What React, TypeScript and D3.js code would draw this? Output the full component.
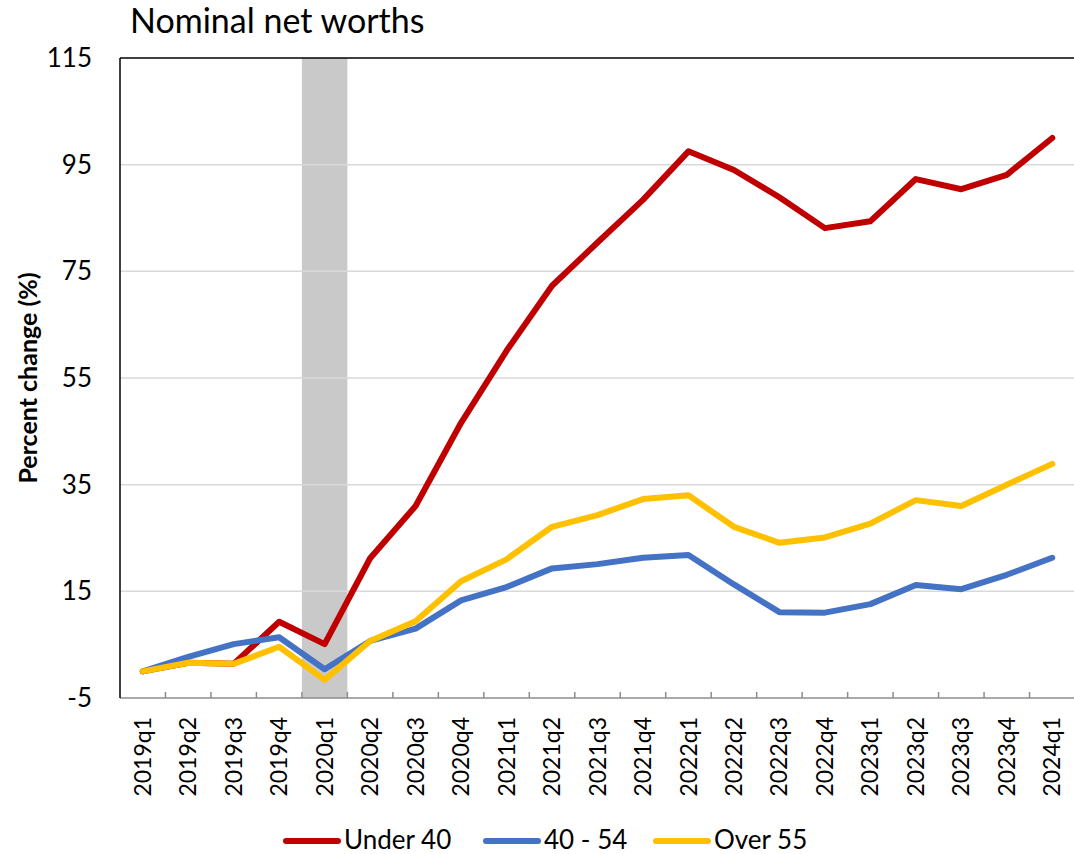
import * as d3 from "d3";

const QUARTERS = [
  "2019q1", "2019q2", "2019q3", "2019q4",
  "2020q1", "2020q2", "2020q3", "2020q4",
  "2021q1", "2021q2", "2021q3", "2021q4",
  "2022q1", "2022q2", "2022q3", "2022q4",
  "2023q1", "2023q2", "2023q3", "2023q4",
  "2024q1",
];

const UNDER_40 = [0, 1.6, 1.4, 9.3, 5.1, 21.2, 31, 46.6, 60.1, 72.3, 80.4, 88.4, 97.5, 94, 88.9, 83.1, 84.4, 92.3, 90.4, 93.1, 100];
const AGE_40_54 = [0, 2.7, 5.1, 6.4, 0.4, 5.7, 8, 13.3, 15.8, 19.3, 20.1, 21.3, 21.8, 16.3, 11.1, 11, 12.6, 16.2, 15.4, 18.1, 21.3];
const OVER_55 = [0, 1.6, 1.4, 4.6, -1.6, 5.7, 9.4, 16.9, 21, 27.1, 29.3, 32.3, 33, 27.1, 24.1, 25.1, 27.7, 32.1, 31, 35, 38.9];

const Y_TICKS = [-5, 15, 35, 55, 75, 95, 115];
const RECESSION = ["2020q1"];

const SERIES = [
  { name: "Under 40", values: UNDER_40, color: "#C00000" },
  { name: "40 - 54", values: AGE_40_54, color: "#4472C4" },
  { name: "Over 55", values: OVER_55, color: "#FFC000" },
];

const FONT = "Lato, 'Open Sans', sans-serif";

export default function App() {
  const width = 1074;
  const height = 854;
  const plot = { left: 120, right: 1075, top: 58, bottom: 698 };

  const x = d3.scaleBand<string>().domain(QUARTERS).range([plot.left, plot.right]);
  const y = d3.scaleLinear().domain([-5, 115]).range([plot.bottom, plot.top]);
  const cx = (q: string) => (x(q) ?? 0) + x.bandwidth() / 2;

  const line = d3
    .line<number>()
    .x((_, i) => cx(QUARTERS[i]))
    .y((d) => y(d));

  // legend entry start positions
  const legendX = [283, 483, 653];

  return (
    <svg
      width={width}
      height={height}
      style={{ position: "absolute", left: 0, top: 0, background: "#fff" }}
      fontFamily={FONT}
    >
      <text x={130} y={33} fontSize={34} fill="#000">Nominal net worths</text>

      {/* recession shading */}
      {RECESSION.map((q) => (
        <rect key={q} x={x(q)} y={plot.top} width={x.bandwidth()} height={plot.bottom - plot.top} fill="#c9c9c9" />
      ))}

      {/* gridlines */}
      {Y_TICKS.filter((t) => t > -5 && t < 115).map((t) => (
        <line key={t} x1={plot.left} x2={plot.right} y1={y(t)} y2={y(t)} stroke="#d9d9d9" strokeWidth={1.5} />
      ))}
      <line x1={plot.left} x2={plot.right} y1={y(115)} y2={y(115)} stroke="#000" strokeWidth={1.5} />

      {/* y ticks */}
      {Y_TICKS.map((t) => (
        <text key={t} x={92} y={y(t)} dy="0.35em" textAnchor="end" fontSize={26} fill="#000">{t}</text>
      ))}
      <text
        transform={`translate(37, ${(plot.top + plot.bottom) / 2}) rotate(-90)`}
        textAnchor="middle"
        fontSize={25}
        fontWeight="bold"
        fill="#000"
      >
        Percent change (%)
      </text>

      {/* x axis */}
      <line x1={plot.left} x2={plot.right} y1={plot.bottom} y2={plot.bottom} stroke="#8c8c8c" strokeWidth={1.5} />
      {QUARTERS.slice(1).map((q) => (
        <line key={q} x1={x(q)} x2={x(q)} y1={plot.bottom - 6} y2={plot.bottom} stroke="#8c8c8c" strokeWidth={1.5} />
      ))}
      {QUARTERS.map((q) => (
        <text
          key={q}
          transform={`translate(${cx(q)}, 717) rotate(-90)`}
          textAnchor="end"
          dy="0.35em"
          fontSize={23}
          fill="#000"
        >
          {q}
        </text>
      ))}
      <line x1={plot.left} x2={plot.left} y1={plot.top} y2={plot.bottom} stroke="#000" strokeWidth={1.5} />

      {/* series */}
      {SERIES.map((s) => (
        <path
          key={s.name}
          d={line(s.values) ?? ""}
          fill="none"
          stroke={s.color}
          strokeWidth={6}
          strokeLinejoin="round"
          strokeLinecap="round"
        />
      ))}

      {/* legend */}
      {SERIES.map((s, i) => (
        <g key={s.name} transform={`translate(${legendX[i]}, 841)`}>
          <line x1={3} x2={55} y1={0} y2={0} stroke={s.color} strokeWidth={6} strokeLinecap="round" />
          <text x={61} y={8} fontSize={26} fill="#000">{s.name}</text>
        </g>
      ))}
    </svg>
  );
}
